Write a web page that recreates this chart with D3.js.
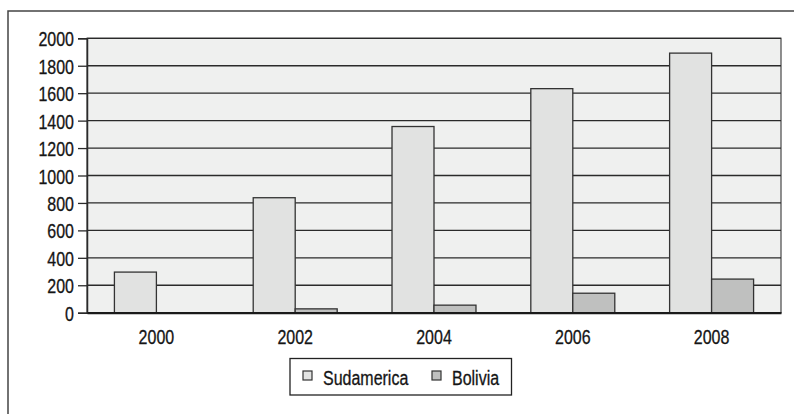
<!DOCTYPE html>
<html><head><meta charset="utf-8">
<script src="https://cdn.jsdelivr.net/npm/d3@7/dist/d3.min.js"></script>
<style>
html,body{margin:0;padding:0;background:#fff;}
text{font-family:"Liberation Sans",Arial,sans-serif;fill:#151515;stroke:#151515;stroke-width:0.3px;}
</style></head>
<body>
<svg id="chart" width="794" height="414"></svg>
<script>
const years = ["2000","2002","2004","2006","2008"];
const seriesNames = ["Sudamerica","Bolivia"];
const sudamerica = [296, 838, 1357, 1633, 1892];
const bolivia = [0, 28, 55, 142, 245];
const yTicks = [0,200,400,600,800,1000,1200,1400,1600,1800,2000];
const colors = ["#e1e2e1","#bfc0bf"];

const SX = 0.82; // condensed look
const FS = 19.5;
const svg = d3.select("#chart");
const W = 794, H = 414;
const m = {left:87, right:781, top:38.3, bottom:312.7};

svg.append("rect").attr("width",W).attr("height",H).attr("fill","#fff");
// outer frame (extends beyond view)
svg.append("rect").attr("x",8).attr("y",11).attr("width",W+20).attr("height",H+20)
  .attr("fill","none").attr("stroke","#444").attr("stroke-width",1.5);

const x0 = d3.scaleBand().domain(years).range([m.left,m.right]).paddingInner(0.395).paddingOuter(0.1975);
const x1 = d3.scaleBand().domain(seriesNames).range([0,x0.bandwidth()]);
const y = d3.scaleLinear().domain([0,2000]).range([m.bottom,m.top]);

// plot area background
svg.append("rect").attr("x",m.left).attr("y",m.top).attr("width",m.right-m.left).attr("height",m.bottom-m.top)
  .attr("fill","#eff0ef").attr("stroke","#555").attr("stroke-width",1.3);

// gridlines
svg.append("g").selectAll("line").data(yTicks.filter(d=>d>0)).join("line")
  .attr("x1",m.left).attr("x2",m.right).attr("y1",d=>y(d)).attr("y2",d=>y(d))
  .attr("stroke","#2a2a2a").attr("stroke-width",1.3);

// bars
const data = years.map((yr,i)=>({year:yr, vals:[sudamerica[i], bolivia[i]]}));
const g = svg.append("g").selectAll("g").data(data).join("g")
  .attr("transform",d=>`translate(${x0(d.year)},0)`);
g.selectAll("rect").data(d=>d.vals.map((v,j)=>({s:seriesNames[j], v, j})).filter(d=>d.v>0)).join("rect")
  .attr("x",d=>x1(d.s)).attr("width",x1.bandwidth())
  .attr("y",d=>y(d.v)).attr("height",d=>y(0)-y(d.v))
  .attr("fill",d=>colors[d.j]).attr("stroke","#333").attr("stroke-width",1.3);

// y axis
const yAxis = d3.axisLeft(y).tickValues(yTicks).tickSize(9).tickPadding(4).tickFormat(d3.format("d"));
const ya = svg.append("g").attr("transform",`translate(${m.left},0)`).call(yAxis);
ya.select(".domain").attr("stroke","#2a2a2a").attr("stroke-width",1.5);
ya.selectAll(".tick line").attr("stroke","#2a2a2a").attr("stroke-width",1.3);
ya.selectAll(".tick text").attr("font-size",FS).attr("dy",null).attr("y",7.5)
  .attr("x",-13/SX).attr("transform",`scale(${SX},1)`)
  .style("font-family",'"Liberation Sans",Arial,sans-serif').attr("fill","#151515");

// x axis
const xAxis = d3.axisBottom(x0).tickSize(0).tickPadding(0);
const xa = svg.append("g").attr("transform",`translate(0,${m.bottom})`).call(xAxis);
xa.select(".domain").attr("stroke","#1a1a1a").attr("stroke-width",2.2);
xa.selectAll(".tick text").attr("font-size",FS).attr("dy",null).attr("y",31)
  .attr("transform",`scale(${SX},1)`)
  .style("font-family",'"Liberation Sans",Arial,sans-serif').attr("fill","#151515");

// legend
const lg = svg.append("g");
lg.append("rect").attr("x",290).attr("y",358.5).attr("width",221.5).attr("height",36.5)
  .attr("fill","#fff").attr("stroke","#222").attr("stroke-width",1.3);
const legendX = [303, 432];
const items = lg.selectAll("g").data(seriesNames).join("g")
  .attr("transform",(d,i)=>`translate(${legendX[i]},371)`);
items.append("rect").attr("width",9).attr("height",9)
  .attr("fill",(d,i)=>colors[i]).attr("stroke","#333").attr("stroke-width",1.2);
items.append("text").attr("x",20/SX).attr("y",14).attr("font-size",FS)
  .attr("transform",`scale(${SX},1)`).text(d=>d);
</script>
</body></html>
